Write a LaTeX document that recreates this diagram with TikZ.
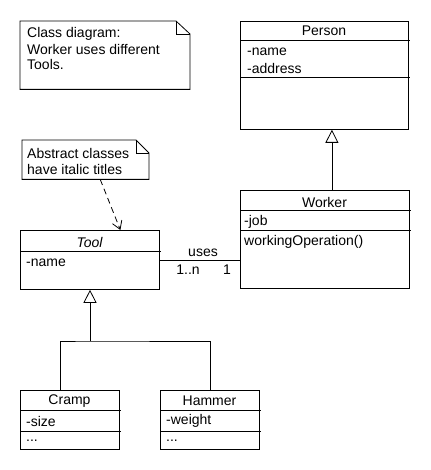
\documentclass[tikz,border=0pt]{standalone}
\usepackage{fontspec}
\setmainfont{Liberation Sans}
\usetikzlibrary{arrows.meta,calc}
\tikzset{
  cls/.style={draw, line width=0.8pt, anchor=north west, inner sep=0pt, fill=white},
  sep/.style={line width=0.8pt},
  txt/.style={anchor=west, inner sep=0pt, font=\fontsize{14}{16}\selectfont},
  ttl/.style={inner sep=0pt, font=\fontsize{14}{16}\selectfont},
  note/.style={draw=none, anchor=north west, inner sep=0pt},
  notepath/.style={line width=0.8pt},
  inh/.style={line width=0.8pt, -{Triangle[open,length=13pt,width=13pt,fill=white]}},
  dep/.style={line width=0.8pt, dash pattern=on 6pt off 4pt, -{Straight Barb[length=8pt,width=10pt]}},
  assoc/.style={line width=0.8pt},
}
\begin{document}
\begin{tikzpicture}[x=1pt,y=-1pt]
\useasboundingbox (0,0) rectangle (430,470);
% note 1
\node[note, minimum width=170, minimum height=68] (note1) at (20,21) {};
\draw[notepath] (note1.north west) -- ++(156,0) -- ++(14,13) |- (note1.south west) -- cycle;
\draw[notepath] ($(note1.north west)+(156,0)$) |- ++(14,13);
\node[txt] (n1a) at (27,34) {Class diagram:};
\node[txt] (n1b) at (27,49) {Worker uses different};
\node[txt] (n1c) at (27,64) {Tools.};
% note 2
\node[note, minimum width=127, minimum height=39] (note2) at (22,140) {};
\draw[notepath] (note2.north west) -- ++(114,0) -- ++(13,13) |- (note2.south west) -- cycle;
\draw[notepath] ($(note2.north west)+(114,0)$) |- ++(13,13);
\node[txt] (n2a) at (27,153) {Abstract classes};
\node[txt] (n2b) at (27,169) {have italic titles};
% Person
\node[cls, minimum width=168, minimum height=108] (person) at (240,21) {};
\draw[sep] (person.west |- 0,40) -- ++(170,0);
\draw[sep] (person.west |- 0,77) -- ++(170,0);
\node[ttl] (pt) at (324,31) {Person};
\node[txt] (pa1) at (247,52) {-name};
\node[txt] (pa2) at (247,68) {-address};
% Worker
\node[cls, minimum width=169, minimum height=98] (worker) at (240,190) {};
\draw[sep] (worker.west |- 0,210) -- ++(171,0);
\draw[sep] (worker.west |- 0,230) -- ++(171,0);
\node[ttl] (wt) at (324.5,202) {Worker};
\node[txt] (wa) at (244,222) {-job};
\node[txt] (wo) at (244,242) {workingOperation()};
% Tool
\node[cls, minimum width=139, minimum height=59] (tool) at (20,230) {};
\draw[sep] (tool.west |- 0,251) -- ++(141,0);
\node[ttl] (tt) at (89.5,242) {\itshape Tool};
\node[txt] (ta) at (26,263) {-name};
% Cramp
\node[cls, minimum width=99, minimum height=59] (cramp) at (20,390) {};
\draw[sep] (cramp.west |- 0,410) -- ++(101,0);
\draw[sep] (cramp.west |- 0,431) -- ++(101,0);
\node[ttl] (ct) at (69.5,401) {Cramp};
\node[txt] (ca) at (26,421) {-size};
\node[txt] (cd) at (26,441) {...};
% Hammer
\node[cls, minimum width=99, minimum height=59] (hammer) at (160,390) {};
\draw[sep] (hammer.west |- 0,410) -- ++(101,0);
\draw[sep] (hammer.west |- 0,431) -- ++(101,0);
\node[ttl] (ht) at (209.5,401) {Hammer};
\node[txt] (ha) at (166,421) {-weight};
\node[txt] (hd) at (166,441) {...};
% connectors
\draw[dep] ([xshift=14.5pt]note2.south) -- ([xshift=30.5pt]tool.north);
\draw[inh] ([xshift=7pt]worker.north) -- ([xshift=7pt]worker.north |- person.south);
\coordinate (junc) at (90,341);
\draw[line width=0.8pt] ([xshift=-9.5pt]cramp.north) |- (junc) -| ([xshift=0.5pt]hammer.north);
\draw[inh] (junc) -- (junc |- tool.south);
\draw[assoc] (tool.east) -- (tool.east -| worker.west);
\node[ttl] (uses) at (203,253) {uses};
\node[ttl] (m1) at (188,270) {1..n};
\node[ttl] (m2) at (227,270) {1};
\end{tikzpicture}
\end{document}
